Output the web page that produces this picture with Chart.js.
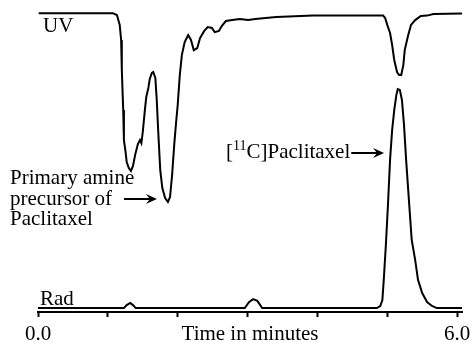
<!DOCTYPE html>
<html>
<head>
<meta charset="utf-8">
<script src="https://cdn.jsdelivr.net/npm/chart.js@4/dist/chart.umd.min.js"></script>
<style>
  body { margin: 0; background: #fff; }
  canvas { display: block; }
</style>
</head>
<body>
<canvas id="myChart" width="472" height="342"></canvas>
<script>
// time in minutes / detector signal (arbitrary units, 0-100)
var uvTime = [0.01, 1.07, 1.13, 1.17, 1.19, 1.2, 1.22, 1.23, 1.25, 1.27, 1.3, 1.33, 1.36, 1.39, 1.43, 1.46, 1.48, 1.5, 1.53, 1.55, 1.58, 1.6, 1.63, 1.65, 1.68, 1.7, 1.72, 1.75, 1.78, 1.82, 1.86, 1.89, 1.92, 1.95, 1.98, 2.0, 2.03, 2.06, 2.1, 2.15, 2.19, 2.23, 2.28, 2.32, 2.38, 2.43, 2.49, 2.53, 2.59, 2.63, 2.69, 2.78, 2.89, 3.01, 3.11, 3.41, 3.94, 4.94, 4.97, 5.0, 5.04, 5.07, 5.1, 5.14, 5.17, 5.2, 5.23, 5.25, 5.3, 5.34, 5.4, 5.48, 5.57, 5.66, 6.07];
var uvSignal = [99.6, 99.6, 99, 95.7, 90.7, 80.7, 67.3, 57.3, 54, 50, 48, 47, 48.7, 52.3, 56, 57.3, 56.3, 60, 67.3, 71.7, 74.7, 77.7, 79.7, 80, 78, 70.7, 60.7, 47.3, 41.3, 38, 36.7, 38.3, 45.7, 55.7, 64, 69, 79, 85.7, 90, 92.3, 90.7, 87.3, 88, 91.3, 93.7, 95, 94.7, 93.3, 93.7, 95.3, 97, 97.3, 97.7, 97.3, 97.7, 98.3, 98.8, 98.8, 98, 95.7, 93, 89, 84, 80, 79, 79, 82.3, 87.3, 92.3, 95.7, 97.3, 98.7, 98.8, 99.3, 99.5];

var radTime = [0, 1.23, 1.27, 1.32, 1.36, 1.4, 2.96, 3.02, 3.08, 3.14, 3.21, 4.85, 4.9, 4.93, 4.95, 4.98, 5.01, 5.04, 5.07, 5.1, 5.13, 5.15, 5.18, 5.21, 5.24, 5.27, 5.31, 5.35, 5.4, 5.44, 5.5, 5.57, 5.64, 5.71, 6.07];
var radSignal = [1.3, 1.3, 2.3, 3, 2.3, 1.3, 1.3, 3.3, 4.3, 3.7, 1.3, 1.3, 2, 4, 10.7, 22.3, 35.7, 50.7, 60.7, 67.3, 72.3, 74.3, 74, 70.7, 62.3, 50.7, 37.3, 24, 17.3, 10.7, 6.3, 3.3, 2, 1.3, 1.3];

var tickLabels = { 0: '0.0', 6: '6.0' };
var axisTitle = 'Time in minutes';
var serif = '"Liberation Serif", "Times New Roman", serif';

function points(xs, ys) {
  return xs.map(function(x, i) { return { x: x, y: ys[i] }; });
}

function arrow(ctx, x1, x2, y) {
  ctx.beginPath();
  ctx.moveTo(x1, y);
  ctx.lineTo(x2 - 4, y);
  ctx.stroke();
  ctx.beginPath();
  ctx.moveTo(x2, y);
  ctx.lineTo(x2 - 11, y - 5);
  ctx.lineTo(x2 - 7, y);
  ctx.lineTo(x2 - 11, y + 5);
  ctx.closePath();
  ctx.fill();
}

// labels and arrows on top of the traces
var notes = {
  id: 'notes',
  afterDraw: function(chart) {
    var ctx = chart.ctx;
    var xs = chart.scales.x, ys = chart.scales.y;
    ctx.save();
    ctx.fillStyle = '#000';
    ctx.strokeStyle = '#000';
    ctx.lineWidth = 2;
    ctx.font = '21px ' + serif;
    ctx.textBaseline = 'alphabetic';

    ctx.textAlign = 'left';
    ctx.fillText('UV', xs.left + 5, ys.getPixelForValue(99.6) + 19);
    ctx.fillText('Rad', xs.left + 2, ys.getPixelForValue(1.3) - 3);

    // precursor
    var px = 10, py = 184;
    ctx.fillText('Primary amine', px, py);
    ctx.fillText('precursor of', px, py + 21);
    ctx.fillText('Paclitaxel', px, py + 41);
    arrow(ctx, 124, xs.getPixelForValue(1.86) - 11, 199);

    // [11C]Paclitaxel
    var tx = 226, ty = 158;
    ctx.fillText('[', tx, ty);
    tx += ctx.measureText('[').width;
    ctx.font = '14px ' + serif;
    ctx.fillText('11', tx, ty - 8);
    tx += ctx.measureText('11').width;
    ctx.font = '21px ' + serif;
    ctx.fillText('C]Paclitaxel', tx, ty);
    tx += ctx.measureText('C]Paclitaxel').width;
    arrow(ctx, tx + 1, xs.getPixelForValue(5.04) - 6, 153);

    ctx.textAlign = 'center';
    ctx.fillText(axisTitle, (xs.left + xs.right) / 2, 340);
    ctx.restore();
  }
};

var ctx = document.getElementById('myChart').getContext('2d');
var chart = new Chart(ctx, {
    type: 'line',
    data: {
        datasets: [{
            label: 'UV',
            data: points(uvTime, uvSignal),
            borderColor: '#000',
            borderWidth: 2,
            pointRadius: 0,
            fill: false,
            tension: 0
        }, {
            label: 'Rad',
            data: points(radTime, radSignal),
            borderColor: '#000',
            borderWidth: 2,
            pointRadius: 0,
            fill: false,
            tension: 0
        }]
    },
    options: {
        responsive: false,
        animation: false,
        layout: { padding: { left: 38, right: 10, top: 12, bottom: 0 } },
        plugins: { legend: { display: false }, tooltip: { enabled: false } },
        scales: {
            x: {
                type: 'linear',
                min: 0,
                max: 6.07,
                afterFit: function(scale) {
                    scale.height = 30;
                    scale.paddingLeft = 0;
                    scale.paddingRight = 0;
                },
                border: { color: '#000', width: 2 },
                grid: { drawOnChartArea: false, drawTicks: true, tickLength: 5, tickColor: '#000', tickWidth: 2 },
                ticks: {
                    stepSize: 1,
                    includeBounds: false,
                    autoSkip: false,
                    maxRotation: 0,
                    padding: 5,
                    color: '#000',
                    font: { family: serif, size: 21 },
                    callback: function(v) { return tickLabels[v] || ''; }
                }
            },
            y: { display: false, min: 0, max: 100 }
        }
    },
    plugins: [notes]
});
</script>
</body>
</html>
